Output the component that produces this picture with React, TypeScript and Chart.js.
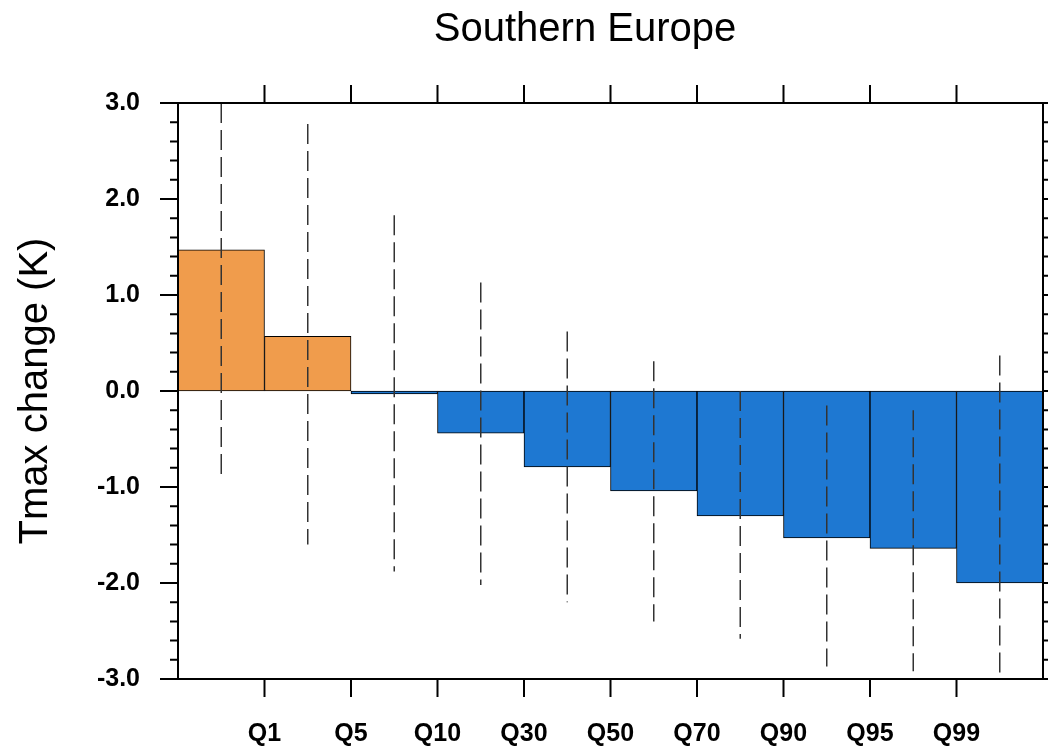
import { useRef, useEffect } from 'react';
import Chart from 'chart.js/auto';

const quantileLabels = ['Q1', 'Q5', 'Q10', 'Q30', 'Q50', 'Q70', 'Q90', 'Q95', 'Q99'];
const tmaxChange = [1.47, 0.57, -0.03, -0.44, -0.79, -1.04, -1.3, -1.53, -1.64, -2.0];
const rangeHigh = [3.0, 2.78, 1.83, 1.13, 0.62, 0.31, 0.0, -0.15, -0.2, 0.37];
const rangeLow = [-0.93, -1.6, -1.88, -2.02, -2.2, -2.4, -2.58, -2.87, -2.92, -3.0];

const FONT = 'Liberation Sans, Arial, sans-serif';

const axisPlugin = {
  id: 'nclAxes',
  afterDraw(chart: any) {
    const { ctx, chartArea: a, scales } = chart;
    const x = scales.x;
    const y = scales.y;
    ctx.save();
    ctx.strokeStyle = '#000';
    ctx.lineWidth = 2;
    ctx.strokeRect(a.left, a.top, a.right - a.left, a.bottom - a.top);
    ctx.beginPath();
    for (let i = 0; i <= 30; i++) {
      const v = -3 + i * 0.2;
      const py = y.getPixelForValue(v);
      const len = i % 5 === 0 ? 18 : 8;
      ctx.moveTo(a.left, py);
      ctx.lineTo(a.left - len, py);
      ctx.moveTo(a.right, py);
      ctx.lineTo(a.right + len, py);
    }
    for (let i = 1; i <= 9; i++) {
      const px = x.getPixelForValue(i);
      ctx.moveTo(px, a.bottom);
      ctx.lineTo(px, a.bottom + 18);
      ctx.moveTo(px, a.top);
      ctx.lineTo(px, a.top - 18);
    }
    ctx.stroke();
    ctx.fillStyle = '#000';
    ctx.font = `40px ${FONT}`;
    ctx.textAlign = 'center';
    ctx.textBaseline = 'middle';
    ctx.fillText('Southern Europe', 585, 30);
    ctx.restore();
  },
};

export default function App() {
  const canvasRef = useRef<HTMLCanvasElement | null>(null);

  useEffect(() => {
    document.body.style.margin = '0';
    if (!canvasRef.current) return;
    const rangePoints: any[] = [];
    tmaxChange.forEach((_, i) => {
      rangePoints.push({ x: i + 0.5, y: rangeHigh[i] });
      rangePoints.push({ x: i + 0.5, y: rangeLow[i] });
      rangePoints.push({ x: i + 0.5, y: null });
    });
    const chart = new Chart(canvasRef.current, {
      type: 'bar',
      data: {
        datasets: [
          {
            type: 'line',
            data: rangePoints,
            borderColor: '#333',
            borderWidth: 1.5,
            borderDash: [20, 7],
            pointRadius: 0,
            spanGaps: false,
            order: 0,
          } as any,
          {
            data: tmaxChange.map((v, i) => ({ x: i + 0.5, y: v })),
            backgroundColor: tmaxChange.map((v) => (v > 0 ? '#F09C4C' : '#1E78D2')),
            borderColor: '#000',
            borderWidth: 1,
            borderSkipped: false,
            barPercentage: 1,
            categoryPercentage: 1,
            order: 1,
          },
        ],
      },
      options: {
        animation: false,
        responsive: false,
        layout: { padding: { top: 103, right: 5, left: 0, bottom: 0 } },
        plugins: { legend: { display: false }, tooltip: { enabled: false } },
        scales: {
          x: {
            type: 'linear',
            min: 0,
            max: 10,
            offset: false,
            grid: { display: false },
            border: { display: false },
            afterFit: (s: any) => { s.height = 72; },
            afterBuildTicks: (s: any) => {
              s.ticks = quantileLabels.map((_, i) => ({ value: i + 1 }));
            },
            ticks: {
              padding: 32,
              color: '#000',
              font: { family: FONT, size: 25, weight: 'bold' },
              callback: (v: any) => quantileLabels[Number(v) - 1] ?? '',
            },
          },
          y: {
            min: -3,
            max: 3,
            grid: { display: false },
            border: { display: false },
            afterFit: (s: any) => { s.width = 178; },
            ticks: {
              stepSize: 1,
              padding: 30,
              color: '#000',
              font: { family: FONT, size: 25, weight: 'bold' },
              callback: (v: any) => Number(v).toFixed(1),
            },
            title: {
              display: true,
              text: 'Tmax change (K)',
              color: '#000',
              font: { family: FONT, size: 40 },
              padding: { top: 12, bottom: 0 },
            },
          },
        },
      },
      plugins: [axisPlugin],
    });
    return () => chart.destroy();
  }, []);

  return <canvas ref={canvasRef} width={1048} height={751} style={{ display: 'block' }} />;
}
